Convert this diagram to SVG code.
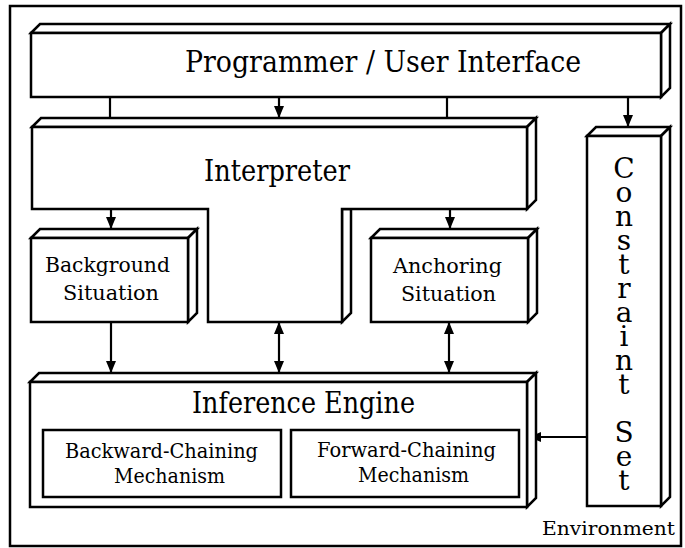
<svg xmlns="http://www.w3.org/2000/svg" width="685" height="548" viewBox="0 0 685 548">
<defs>
<style>
.box{fill:#fff;stroke:#000;stroke-width:2.5;stroke-linejoin:miter}
.conn{stroke:#000;stroke-width:2.2;fill:none}
text{font-family:'DejaVu Serif','Liberation Serif',serif;fill:#000}
.big{font-size:30px}
.med{font-size:21px}
.sm{font-size:19px}
</style>
<marker id="ah" viewBox="0 0 12 10" markerUnits="userSpaceOnUse" markerWidth="12" markerHeight="10" refX="12" refY="5" orient="auto-start-reverse">
<path d="M0,0 L12,5 L0,10 z" fill="#000"/>
</marker>
</defs>
<rect x="0" y="0" width="685" height="548" fill="#fff"/>
<rect id="environment" x="10" y="6" width="671" height="540" fill="none" stroke="#000" stroke-width="2.5"/>

<g id="connectors">
<line class="conn" x1="110" y1="97" x2="110" y2="118"/>
<line class="conn" x1="447" y1="97" x2="447" y2="118"/>
<path class="conn" d="M279,97 L279,118" marker-end="url(#ah)"/>
<path class="conn" d="M628,97 L628,127" marker-end="url(#ah)"/>
<path class="conn" d="M111,209 L111,229" marker-end="url(#ah)"/>
<path class="conn" d="M450,209 L450,229" marker-end="url(#ah)"/>
<path class="conn" d="M111,322 L111,373" marker-end="url(#ah)"/>
<path class="conn" d="M279,322 L279,373" marker-start="url(#ah)" marker-end="url(#ah)"/>
<path class="conn" d="M449,322 L449,373" marker-start="url(#ah)" marker-end="url(#ah)"/>
<path class="conn" d="M587,437 L529,437" marker-end="url(#ah)"/>
</g>

<g id="programmer">
<polygon class="box" points="31,33 40,24 670,24 661,33"/>
<polygon class="box" points="661,33 670,24 670,88 661,97"/>
<rect class="box" x="31" y="33" width="630" height="64"/>
<text class="big" x="185" y="72" textLength="396" lengthAdjust="spacingAndGlyphs">Programmer / User Interface</text>
</g>

<g id="interpreter">
<polygon class="box" points="32,127 41,118 536,118 527,127"/>
<polygon class="box" points="527,127 536,118 536,200 527,209"/>
<polygon class="box" points="342,209 351,209 351,313 342,322"/>
<polygon class="box" points="32,127 527,127 527,209 342,209 342,322 208,322 208,209 32,209"/>
<text class="big" x="204" y="181" textLength="146" lengthAdjust="spacingAndGlyphs">Interpreter</text>
</g>

<g id="background">
<polygon class="box" points="31,238 40,229 197,229 188,238"/>
<polygon class="box" points="188,238 197,229 197,313 188,322"/>
<rect class="box" x="31" y="238" width="157" height="84"/>
<text class="med" x="45" y="272" textLength="125" lengthAdjust="spacingAndGlyphs">Background</text>
<text class="med" x="63" y="300" textLength="96" lengthAdjust="spacingAndGlyphs">Situation</text>
</g>

<g id="anchoring">
<polygon class="box" points="371,238 380,229 537,229 528,238"/>
<polygon class="box" points="528,238 537,229 537,313 528,322"/>
<rect class="box" x="371" y="238" width="157" height="84"/>
<text class="med" x="393" y="273" textLength="109" lengthAdjust="spacingAndGlyphs">Anchoring</text>
<text class="med" x="401" y="301" textLength="95" lengthAdjust="spacingAndGlyphs">Situation</text>
</g>

<g id="constraint">
<polygon class="box" points="587,136 596,127 670,127 661,136"/>
<polygon class="box" points="661,136 670,127 670,497 661,506"/>
<rect class="box" x="587" y="136" width="74" height="370"/>
<text font-size="28" text-anchor="middle"><tspan x="624" y="178">C</tspan><tspan x="624" y="202">o</tspan><tspan x="624" y="226">n</tspan><tspan x="624" y="250">s</tspan><tspan x="624" y="274">t</tspan><tspan x="624" y="298">r</tspan><tspan x="624" y="322">a</tspan><tspan x="624" y="346">i</tspan><tspan x="624" y="370">n</tspan><tspan x="624" y="394">t</tspan><tspan x="624" y="442">S</tspan><tspan x="624" y="466">e</tspan><tspan x="624" y="490">t</tspan></text>
</g>

<g id="inference">
<polygon class="box" points="30,382 39,373 536,373 527,382"/>
<polygon class="box" points="527,382 536,373 536,498 527,507"/>
<rect class="box" x="30" y="382" width="497" height="125"/>
<text class="big" x="192" y="413" textLength="223" lengthAdjust="spacingAndGlyphs">Inference Engine</text>
</g>

<g id="backward">
<rect class="box" x="43" y="430" width="238" height="67"/>
<text class="med" x="65" y="458" textLength="193" lengthAdjust="spacingAndGlyphs">Backward-Chaining</text>
<text class="med" x="114" y="483" textLength="111" lengthAdjust="spacingAndGlyphs">Mechanism</text>
</g>

<g id="forward">
<rect class="box" x="291" y="430" width="228" height="67"/>
<text class="med" x="317" y="457" textLength="179" lengthAdjust="spacingAndGlyphs">Forward-Chaining</text>
<text class="med" x="358" y="482" textLength="111" lengthAdjust="spacingAndGlyphs">Mechanism</text>
</g>

<text id="env-label" class="sm" x="542" y="535" textLength="133" lengthAdjust="spacingAndGlyphs">Environment</text>
</svg>
